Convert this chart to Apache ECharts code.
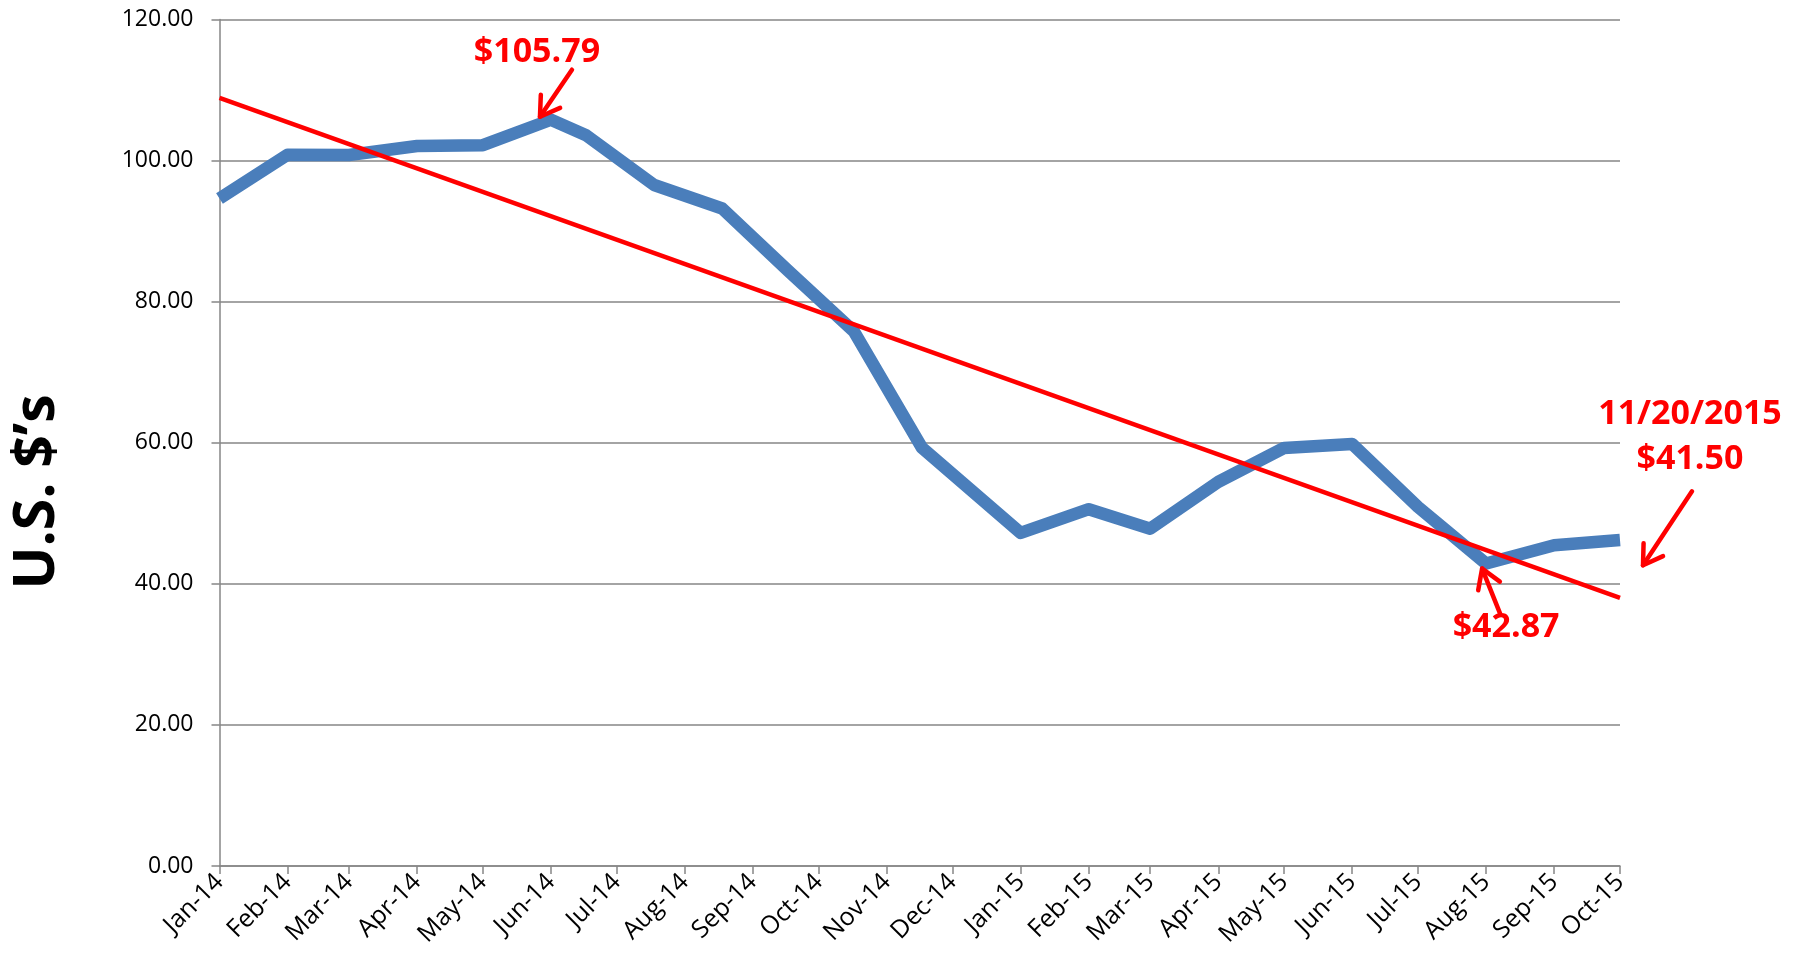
<!DOCTYPE html>
<html><head><meta charset="utf-8">
<script src="https://cdn.jsdelivr.net/npm/echarts@6/dist/echarts.min.js"></script>
<style>html,body{margin:0;padding:0;background:#fff}#c{width:1794px;height:959px}</style>
</head><body><div id="c"></div>
<script>
// ---- data ----
const monthTicks = ['2014-01-01','2014-02-01','2014-03-01','2014-04-01','2014-05-01','2014-06-01','2014-07-01','2014-08-01','2014-09-01','2014-10-01','2014-11-01','2014-12-01','2015-01-01','2015-02-01','2015-03-01','2015-04-01','2015-05-01','2015-06-01','2015-07-01','2015-08-01','2015-09-01','2015-10-01'];
const monthNames = ['Jan','Feb','Mar','Apr','May','Jun','Jul','Aug','Sep','Oct','Nov','Dec'];
const priceDates = ['2014-01-01','2014-02-01','2014-03-01','2014-04-01','2014-05-01','2014-06-01','2014-06-17','2014-07-18','2014-08-18','2014-09-17','2014-10-17','2014-11-17','2015-01-01','2015-02-01','2015-03-01','2015-04-01','2015-05-01','2015-06-01','2015-07-01','2015-08-01','2015-09-01','2015-10-01'];
const priceValues = [94.62,100.82,100.80,102.07,102.18,105.79,103.59,96.54,93.21,84.40,75.79,59.29,47.22,50.58,47.82,54.45,59.27,59.82,50.90,42.87,45.48,46.22];
const trendDates = ['2014-01-01','2015-10-01'];
const trendValues = [108.9, 38.0];
const yTicks = [0,20,40,60,80,100,120];
const annoTexts = ['$105.79','$42.87','11/20/2015\n$41.50'];
const annoDates = ['2014-06-01','2015-08-01','2015-10-01'];
const annoValues = [105.79, 42.87, 41.50];
const yTitle = 'U.S. $\u2019s';

// ---- helpers ----
function ts(s){const p=s.split('-').map(Number);return Date.UTC(p[0],p[1]-1,p[2]);}
const FONT = '"Open Sans", "Liberation Sans", sans-serif';
const tickTs = monthTicks.map(ts);
const priceData = priceDates.map((d,i)=>[ts(d), priceValues[i]]);
const trendData = trendDates.map((d,i)=>[ts(d), trendValues[i]]);

const chart = echarts.init(document.getElementById('c'), null, {renderer:'canvas'});
chart.setOption({
  animation:false,
  backgroundColor:'#fff',
  grid:{left:219.5,right:174,top:19.5,bottom:93},
  xAxis:{
    type:'value', min:tickTs[0], max:tickTs[tickTs.length-1], scale:true,
    axisLine:{show:true,onZero:false,lineStyle:{color:'#868686',width:1.5}},
    axisTick:{show:true,length:8,customValues:tickTs,lineStyle:{color:'#868686',width:1.5}},
    axisLabel:{customValues:tickTs,rotate:45,margin:12,color:'#000',fontSize:25,fontFamily:FONT,
      formatter:function(v){const d=new Date(v);return monthNames[d.getUTCMonth()]+'-'+String(d.getUTCFullYear()).slice(2);}},
    splitLine:{show:false}
  },
  yAxis:{
    type:'value', min:yTicks[0], max:yTicks[yTicks.length-1], interval:20,
    axisLine:{show:true,lineStyle:{color:'#868686',width:1.5}},
    axisTick:{show:true,length:8,lineStyle:{color:'#868686',width:1.5}},
    axisLabel:{margin:26,color:'#000',fontSize:23,fontFamily:FONT,formatter:v=>v.toFixed(2)},
    splitLine:{show:true,lineStyle:{color:'#868686',width:1.5}}
  },
  series:[
    {type:'line',data:priceData,showSymbol:false,symbol:'none',lineStyle:{color:'#4A7EBB',width:12.5,join:'round'},z:2},
    {type:'line',data:trendData,showSymbol:false,symbol:'none',lineStyle:{color:'#FF0000',width:4.5},z:3}
  ]
});

// ---- annotations anchored to data points ----
const annoLayout = [
  {tip:[-11,-3], tail:[21,-50], text:[-14,-67]},
  {tip:[-4,5],  tail:[14,50],  text:[20,64]},
  {tip:[23,-8], tail:[72,-82], text:[70,-136]}
];
const g = [];
annoTexts.forEach((t,i)=>{
  const p = chart.convertToPixel({gridIndex:0},[ts(annoDates[i]), annoValues[i]]);
  const L = annoLayout[i];
  const tip=[p[0]+L.tip[0],p[1]+L.tip[1]], tail=[p[0]+L.tail[0],p[1]+L.tail[1]];
  const ang=Math.atan2(tail[1]-tip[1],tail[0]-tip[0]);
  const bl=22, da=32*Math.PI/180;
  const b1=[tip[0]+bl*Math.cos(ang+da),tip[1]+bl*Math.sin(ang+da)];
  const b2=[tip[0]+bl*Math.cos(ang-da),tip[1]+bl*Math.sin(ang-da)];
  const ls={stroke:'#FF0000',lineWidth:4.5,lineCap:'round',lineJoin:'round',fill:null};
  g.push({type:'polyline',shape:{points:[tail,tip]},style:ls,z:10});
  g.push({type:'polyline',shape:{points:[b1,tip,b2]},style:ls,z:10});
  g.push({type:'text',x:p[0]+L.text[0],y:p[1]+L.text[1],z:10,style:{text:t,fill:'#FF0000',fontSize:34,fontWeight:'bold',fontFamily:FONT,align:'center',verticalAlign:'middle',lineHeight:45}});
});
g.push({type:'text',x:38,y:492,rotation:Math.PI/2,style:{text:yTitle,fill:'#000',fontSize:57,fontWeight:'bold',fontFamily:FONT,align:'center',verticalAlign:'middle'}});
chart.setOption({graphic:g});
</script></body></html>
